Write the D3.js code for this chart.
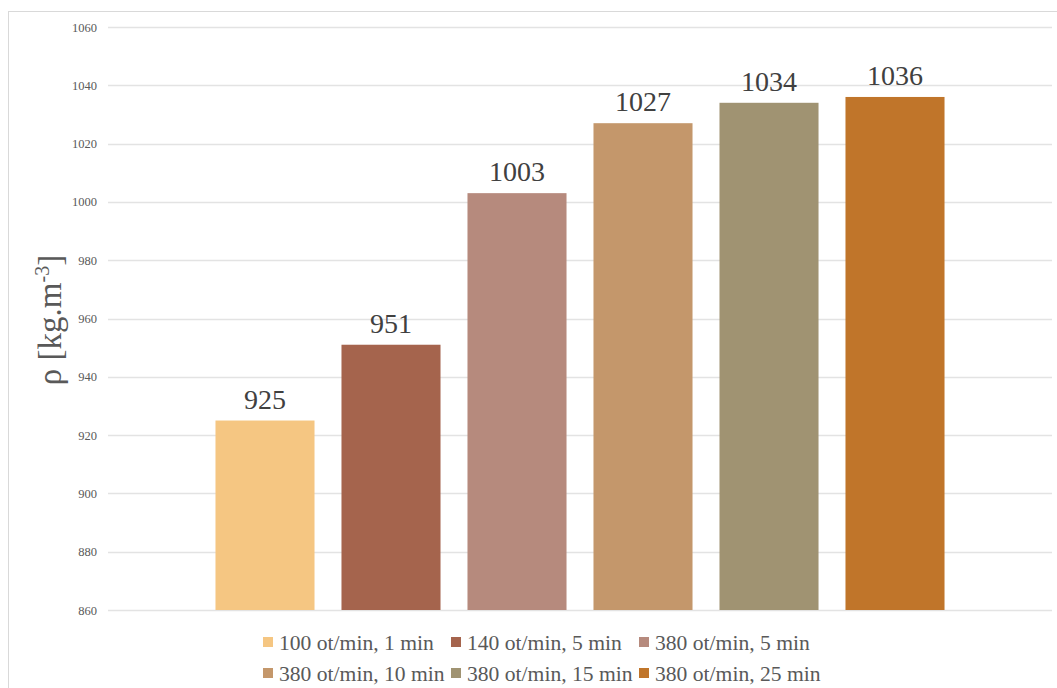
<!DOCTYPE html>
<html lang="en">
<head>
    <meta charset="UTF-8" />
    <title>Density bar chart</title>
    <script src="https://d3js.org/d3.v7.min.js"></script>
    <style>
        body {
            margin: 0;
            background-color: #fff;
        }
        svg text {
            font-family: 'Liberation Serif', 'Times New Roman', serif;
        }
        .tick-label {
            font-size: 12.5px;
            fill: #595959;
        }
        .value-label {
            font-size: 28px;
            fill: #404040;
        }
        .legend-label {
            font-size: 21.6px;
            fill: #595959;
        }
    </style>
</head>
<body>
    <svg id="chart"></svg>

    <script>
        // Data
        const categories = ["100 ot/min, 1 min", "140 ot/min, 5 min", "380 ot/min, 5 min",
                            "380 ot/min, 10 min", "380 ot/min, 15 min", "380 ot/min, 25 min"];
        const values = [925, 951, 1003, 1027, 1034, 1036];
        const colors = ["#f5c682", "#a5644d", "#b68a7d", "#c4976b", "#a09372", "#c0752a"];
        const yTicks = [860, 880, 900, 920, 940, 960, 980, 1000, 1020, 1040, 1060];

        const W = 1057, H = 688;
        const plot = { left: 108, right: 1052, top: 27, bottom: 610 };

        const svg = d3.select("#chart")
            .attr("width", W)
            .attr("height", H);

        // chart area border
        svg.append("rect")
            .attr("x", 8.5)
            .attr("y", 11.5)
            .attr("width", 1200)
            .attr("height", 800)
            .attr("fill", "none")
            .attr("stroke", "#d9d9d9");

        const yScale = d3.scaleLinear()
            .domain([860, 1060])
            .range([plot.bottom, plot.top]);

        const xScale = d3.scaleBand()
            .domain(categories)
            .range([plot.left, plot.right])
            .paddingInner(0.214)
            .paddingOuter(0.853);

        // gridlines
        svg.append("g")
            .selectAll("line")
            .data(yTicks)
            .enter()
            .append("line")
            .attr("x1", plot.left)
            .attr("x2", plot.right)
            .attr("y1", d => Math.round(yScale(d)) + 0.5)
            .attr("y2", d => Math.round(yScale(d)) + 0.5)
            .attr("stroke", "#e3e3e3")
            .attr("stroke-width", 1.3);

        // y axis tick labels
        const yAxis = d3.axisLeft(yScale)
            .tickValues(yTicks)
            .tickFormat(d3.format("d"))
            .tickSize(0)
            .tickPadding(0);
        const yAxisG = svg.append("g")
            .attr("transform", "translate(97,0)")
            .call(yAxis)
            .attr("font-family", null)
            .attr("font-size", null);
        yAxisG.select(".domain").remove();
        yAxisG.selectAll("text")
            .attr("class", "tick-label")
            .attr("fill", null);

        // bars
        svg.append("g")
            .selectAll("rect")
            .data(values)
            .enter()
            .append("rect")
            .attr("x", (d, i) => xScale(categories[i]))
            .attr("y", d => yScale(d))
            .attr("width", xScale.bandwidth())
            .attr("height", d => yScale(860) - yScale(d))
            .attr("fill", (d, i) => colors[i]);

        // value labels
        svg.append("g")
            .selectAll("text")
            .data(values)
            .enter()
            .append("text")
            .attr("class", "value-label")
            .attr("x", (d, i) => xScale(categories[i]) + xScale.bandwidth() / 2)
            .attr("y", d => yScale(d) - 12)
            .attr("text-anchor", "middle")
            .text(d => d);

        // y axis title
        const title = svg.append("text")
            .attr("transform", "translate(61,320) rotate(-90)")
            .attr("text-anchor", "middle")
            .style("font-size", "33px")
            .style("fill", "#595959");
        title.append("tspan").text("ρ [kg.m");
        title.append("tspan")
            .attr("dy", -12)
            .style("font-size", "20px")
            .text("-3");
        title.append("tspan")
            .attr("dy", 12)
            .text("]");

        // legend: 3 columns x 2 rows
        const legend = svg.append("g");
        const colW = 188, rowH = 31;
        const legItems = legend.selectAll("g")
            .data(categories)
            .enter()
            .append("g")
            .attr("transform", (d, i) => `translate(${263 + (i % 3) * colW},${637 + Math.floor(i / 3) * rowH})`);
        legItems.append("rect")
            .attr("width", 10)
            .attr("height", 10)
            .attr("fill", (d, i) => colors[i]);
        legItems.append("text")
            .attr("class", "legend-label")
            .attr("x", 16)
            .attr("y", 13)
            .text(d => d);
    </script>
</body>
</html>
